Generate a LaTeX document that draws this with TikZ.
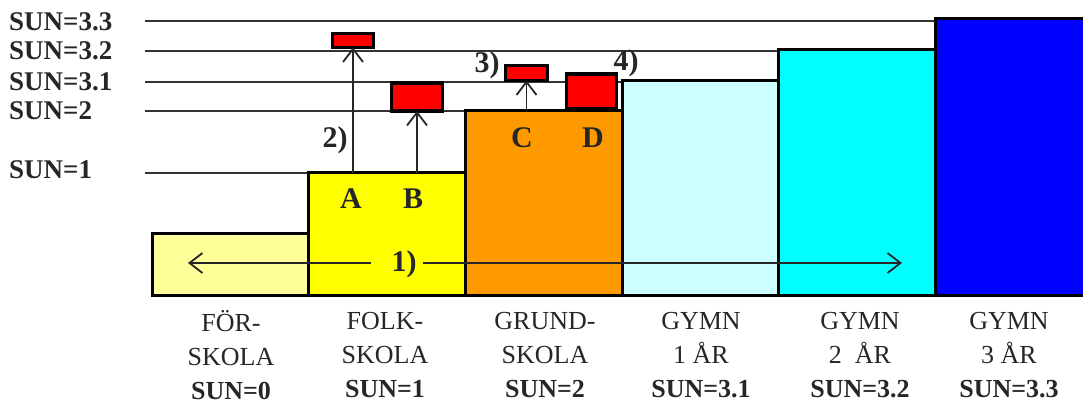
\documentclass[tikz,border=0pt]{standalone}
\usepackage{fontspec}
\setmainfont{Liberation Serif}
\usetikzlibrary{arrows.meta}
\definecolor{jaunepale}{HTML}{FFFF99}
\definecolor{jaune}{HTML}{FFFF00}
\definecolor{orangeb}{HTML}{FF9900}
\definecolor{cyanpale}{HTML}{CCFFFF}
\definecolor{cyanvif}{HTML}{00FFFF}
\definecolor{bleu}{HTML}{0000FF}
\definecolor{rougevif}{HTML}{FF0000}
\tikzset{
  niveau/.style={line width=1.7pt, draw=black!80},
  etape/.style={draw, line width=3pt, inner sep=0pt, outer sep=0pt, anchor=south west, minimum width=157pt},
  rouge/.style={draw, fill=rougevif, line width=3.5pt, inner sep=0pt, outer sep=0pt},
  fleche/.style={line width=1.8pt, draw=black!85, -{Straight Barb[length=13pt,width=20pt,line width=1.8pt]}},
  gras/.style={font=\fontsize{27}{30}\selectfont\bfseries, inner sep=0pt, text=black!85},
  lettre/.style={font=\fontsize{30}{32}\selectfont\bfseries, inner sep=0pt, text=black!85},
  bas/.style={font=\fontsize{26}{34}\selectfont, align=center, inner sep=0pt, text=black!85}
}
\begin{document}
\begin{tikzpicture}[x=1pt,y=-1pt]
  \useasboundingbox (0,0) rectangle (1083,406);
  \clip (0,0) rectangle (1083,406);
  % niveaux SUN
  \foreach \y/\xfin in {21/935,51/778,82/622,111/465,173/308}
    \draw[niveau] (145,\y) -- (\xfin,\y);
  \node[gras, anchor=west] (n33) at (9,22) {SUN=3.3};
  \node[gras, anchor=west] (n32) at (9,51) {SUN=3.2};
  \node[gras, anchor=west] (n31) at (9,82) {SUN=3.1};
  \node[gras, anchor=west] (n2) at (9,111) {SUN=2};
  \node[gras, anchor=west] (n1) at (9,170) {SUN=1};

  \node[etape, fill=jaunepale, minimum height=62pt] (forskola) at (152,295) {};
  \node[etape, fill=jaune, minimum height=122pt] (folkskola) at (308,295) {};
  \node[etape, fill=orangeb, minimum height=184pt] (grundskola) at (465,295) {};
  \node[etape, fill=cyanpale, minimum height=214pt] (gymn1) at (622,295) {};
  \node[etape, fill=cyanvif, minimum height=245pt] (gymn2) at (778,295) {};
  \node[etape, fill=bleu, minimum height=276pt, minimum width=170pt] (gymn3) at (935,295) {};

  \node[rouge, minimum width=41pt, minimum height=14pt] (rA) at (353,40.5) {};
  \node[rouge, minimum width=51pt, minimum height=28pt] (rB) at (417,97) {};
  \node[rouge, minimum width=42pt, minimum height=15pt] (rC) at (526.5,73) {};
  \node[rouge, minimum width=50pt, minimum height=35pt] (rD) at (591.5,91.5) {};

  \draw[fleche] (rA.south |- folkskola.north) -- (rA.south);
  \draw[fleche] (rB.south |- folkskola.north) -- (rB.south);
  \draw[fleche] (rC.south |- grundskola.north) -- (rC.south);

  \node[lettre] (A) at (351,199) {A};
  \node[lettre] (B) at (413,199) {B};
  \node[lettre] (C) at (522,138) {C};
  \node[lettre] (D) at (593,138) {D};
  \node[lettre] (deux) at (335,140) {2)};
  \node[lettre] (trois) at (487,65) {3)};
  \node[lettre] (quatre) at (626,63) {4)};

  \node[lettre] (un) at (404,264) {1)};
  \coordinate (gauche) at (188,263);
  \coordinate (droite) at (902,263);
  \draw[fleche] ([xshift=-20pt]un.west |- gauche) -- (gauche);
  \draw[fleche] ([xshift=6pt]un.east |- droite) -- (droite);

  \node[bas] (bFor) at (231,355) {FÖR-\\SKOLA\\\textbf{SUN=0}};
  \node[bas] (bFolk) at (385,355) {FOLK-\\SKOLA\\\textbf{SUN=1}};
  \node[bas] (bGrund) at (545,355) {GRUND-\\SKOLA\\\textbf{SUN=2}};
  \node[bas] (bG1) at (701,355) {GYMN\\1 ÅR\\\textbf{SUN=3.1}};
  \node[bas] (bG2) at (860,355) {GYMN\\2\ \ ÅR\\\textbf{SUN=3.2}};
  \node[bas] (bG3) at (1009,355) {GYMN\\3 ÅR\\\textbf{SUN=3.3}};
\end{tikzpicture}
\end{document}
